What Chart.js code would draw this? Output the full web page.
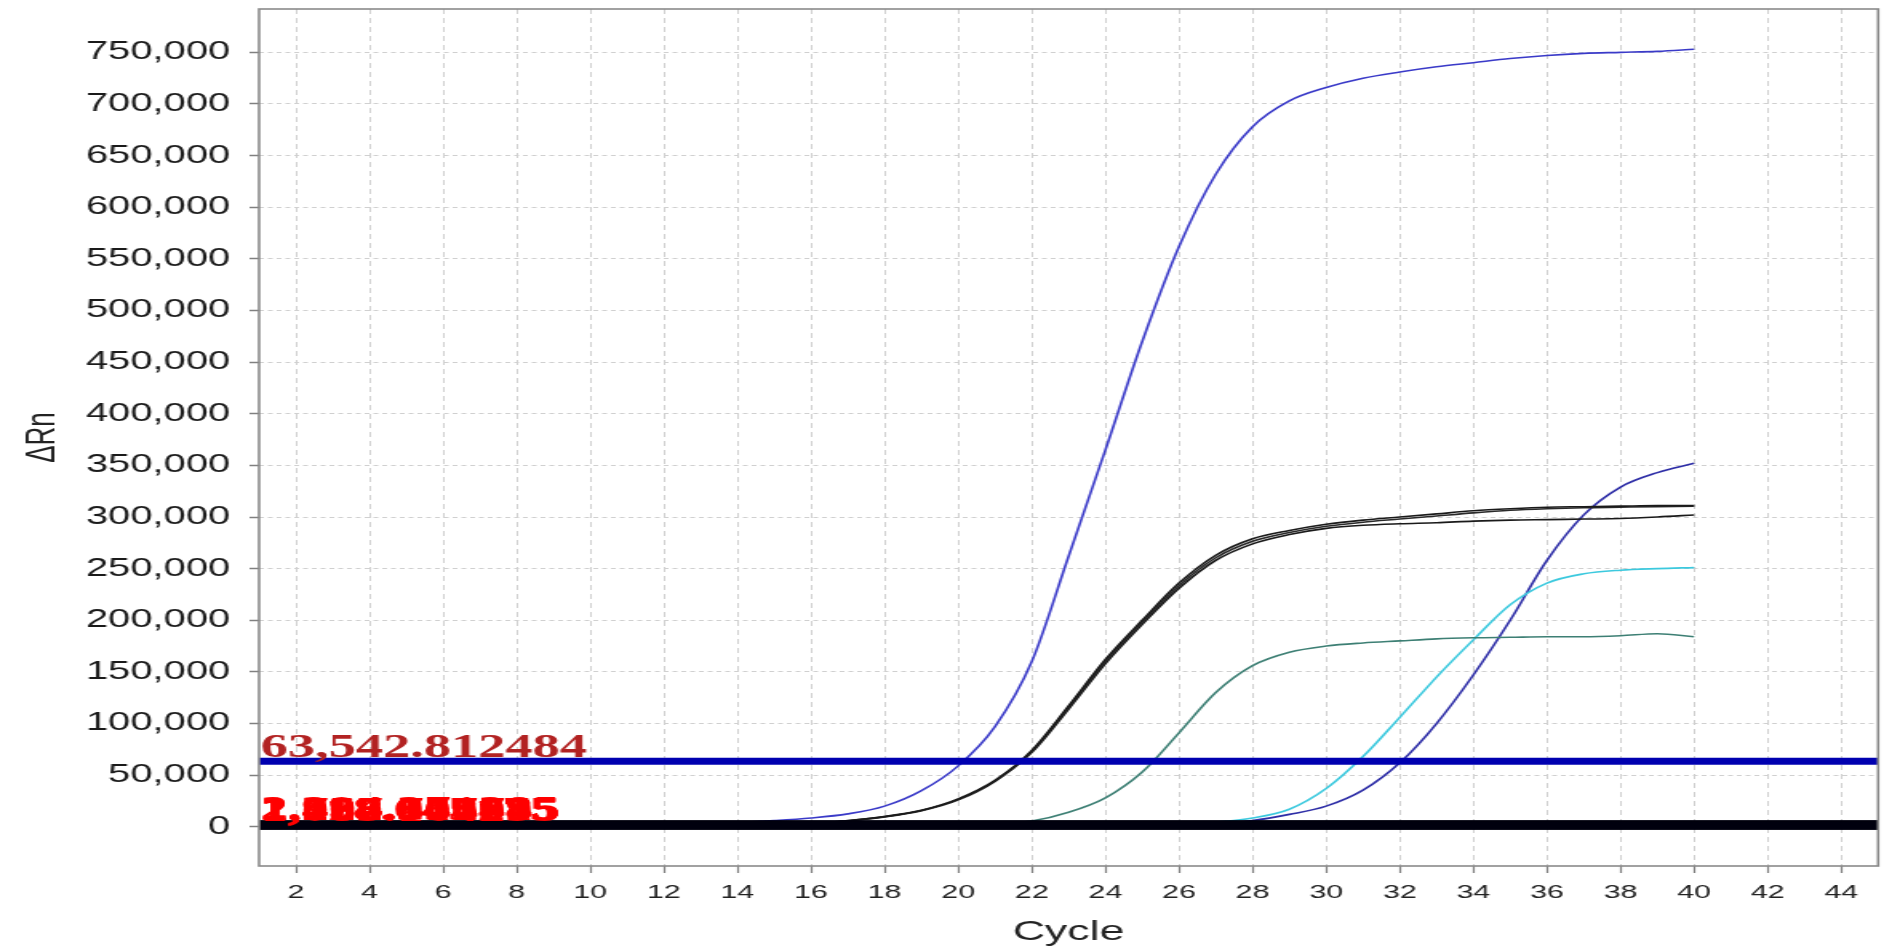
<!DOCTYPE html>
<html>
<head>
<meta charset="utf-8">
<title>Amplification plot</title>
<script src="https://cdn.jsdelivr.net/npm/chart.js@4.4.1/dist/chart.umd.min.js"></script>
<style>
  html, body { margin: 0; padding: 0; background: #fff; overflow: hidden; }
  #wrap { width: 1900px; height: 952px; overflow: hidden; }
  /* the original picture is stretched sideways, so the canvas is too */
  #ampChart { display: block; transform: scaleX(1.59933); transform-origin: 0 0; }
</style>
</head>
<body>
<div id="wrap"><canvas id="ampChart" width="1188" height="952"></canvas></div>
<script>
// Cycle numbers
const cycles = [1, 2, 3, 4, 5, 6, 7, 8, 9, 10, 11, 12, 13, 14, 15, 16, 17, 18, 19, 20,
                21, 22, 23, 24, 25, 26, 27, 28, 29, 30, 31, 32, 33, 34, 35, 36, 37, 38, 39, 40];

// Delta Rn per well
const blueHigh = [0, 400, 700, 800, 900, 1000, 1100, 1200, 1300, 1500,
                  1800, 2300, 3000, 4200, 6000, 8500, 12500, 20000, 35000, 59000,
                  97000, 160000, 262000, 365000, 470000, 562000, 632000, 678000, 703000, 716000,
                  725000, 731000, 736000, 740000, 744000, 747000, 749000, 750000, 751000, 753000];
const blackA = [0, 200, 300, 300, 400, 400, 500, 500, 600, 700,
                800, 900, 1100, 1400, 2000, 3200, 6000, 10000, 16000, 27000,
                45000, 74000, 117000, 162000, 200000, 236000, 263000, 279000, 287000, 293000,
                297000, 300000, 303000, 306000, 308000, 309500, 310000, 310500, 311000, 311000];
const blackB = [0, 100, 200, 300, 300, 400, 400, 500, 500, 600,
                700, 800, 1000, 1300, 1900, 3000, 5600, 9500, 15500, 26000,
                44000, 72000, 114000, 158000, 196000, 231000, 258000, 274000, 283000, 289000,
                292000, 293500, 294500, 296000, 297000, 297500, 298000, 298500, 300000, 302000];
const blackC = [0, 150, 250, 300, 350, 400, 450, 500, 550, 650,
                750, 850, 1050, 1350, 1950, 3100, 5800, 9800, 15800, 26500,
                44500, 73000, 116000, 160000, 198000, 233500, 260500, 276500, 285000, 291000,
                295000, 298000, 301000, 304000, 306500, 308000, 309000, 309500, 310000, 310500];
const teal = [0, 100, 100, 200, 200, 200, 300, 300, 300, 400,
              400, 500, 500, 600, 700, 800, 900, 1100, 1400, 1800,
              2500, 5500, 14000, 28000, 53000, 91000, 130000, 156000, 169000, 175000,
              178000, 180000, 182000, 183000, 183500, 184000, 184000, 185000, 187000, 184000];
const cyan = [0, 100, 100, 100, 200, 200, 200, 300, 300, 300,
              300, 400, 400, 400, 500, 500, 600, 600, 700, 800,
              900, 1000, 1200, 1400, 1700, 2500, 4500, 8500, 17000, 37000,
              68000, 106000, 145000, 181000, 215000, 236000, 245000, 248500, 250000, 251000];
const blueLate = [0, 100, 100, 200, 200, 200, 300, 300, 300, 400,
                  400, 400, 500, 500, 600, 600, 700, 700, 800, 900,
                  1000, 1100, 1300, 1500, 1800, 2300, 3000, 6000, 12000, 20000,
                  35500, 62000, 100000, 147000, 200000, 258000, 302000, 329000, 343000, 352000];

// Threshold lines
const thresholdBlue = 63542.812484;
const baselineThresholds = [1083.164235, 1426.907785, 1752.330915, 2118.645175,
                            1290.548615, 1967.802445, 1538.716095, 2394.271385];
const thresholdSpan = [1, 45];

// Axis ticks
const xTicks = [2, 4, 6, 8, 10, 12, 14, 16, 18, 20, 22, 24, 26, 28, 30, 32, 34, 36, 38, 40, 42, 44];
const yTicks = [0, 50000, 100000, 150000, 200000, 250000, 300000, 350000,
                400000, 450000, 500000, 550000, 600000, 650000, 700000, 750000];

const fmt = v => v.toLocaleString('en-US', { minimumFractionDigits: 6, maximumFractionDigits: 6 });
const toPoints = vals => cycles.map((c, i) => ({ x: c, y: vals[i] }));
const flatLine = v => thresholdSpan.map(c => ({ x: c, y: v }));

const curve = (vals, color) => ({
    data: toPoints(vals),
    borderColor: color,
    borderWidth: 1.6,
    pointRadius: 0,
    fill: false,
    cubicInterpolationMode: 'monotone'
});

// threshold lines first so they sit on top of the curves
const datasets = [
    { data: flatLine(thresholdBlue), borderColor: '#0000b0', borderWidth: 7, pointRadius: 0 }
];
baselineThresholds.forEach(v => {
    datasets.push({ data: flatLine(v), borderColor: '#00000e', borderWidth: 8, pointRadius: 0 });
});
datasets.push(
    curve(blueHigh, '#3a3ac8'),
    curve(blackA, '#1a1a1a'),
    curve(blackC, '#2a2a2a'),
    curve(blackB, '#1a1a1a'),
    curve(teal, '#3d7f74'),
    curve(cyan, '#3cc9de'),
    curve(blueLate, '#2c2ca6')
);

// Frame round the plot and the red threshold values
const frameAndLabels = {
    id: 'frameAndLabels',
    afterDatasetsDraw(chart) {
        const { ctx, chartArea: a, scales: { y } } = chart;
        ctx.save();
        ctx.beginPath();
        ctx.rect(a.left, a.top, a.right - a.left, a.bottom - a.top);
        ctx.clip();
        ctx.font = 'bold 34px "Liberation Serif"';
        ctx.textBaseline = 'alphabetic';
        ctx.textAlign = 'left';
        ctx.fillStyle = '#ff0000';
        baselineThresholds.forEach(v => {
            ctx.fillText(fmt(v), a.left + 1, y.getPixelForValue(v) - 5);
        });
        ctx.fillStyle = '#b22222';
        ctx.fillText(fmt(thresholdBlue), a.left + 1, y.getPixelForValue(thresholdBlue) - 4);
        ctx.restore();

        ctx.save();
        ctx.strokeStyle = '#8a8a8a';
        ctx.lineWidth = 1.6;
        ctx.strokeRect(a.left, a.top, a.right - a.left, a.bottom - a.top);
        ctx.restore();
    }
};

const tickFont = { family: '"Liberation Sans", Arial, sans-serif' };

new Chart(document.getElementById('ampChart'), {
    type: 'line',
    data: { datasets: datasets },
    plugins: [frameAndLabels],
    options: {
        responsive: false,
        devicePixelRatio: 1,
        animation: false,
        layout: { padding: { top: 9, right: 13.7, bottom: 0, left: 0 } },
        plugins: {
            legend: { display: false },
            tooltip: { enabled: false }
        },
        scales: {
            x: {
                type: 'linear',
                min: 1,
                max: 45,
                afterBuildTicks: s => { s.ticks = xTicks.map(v => ({ value: v })); },
                afterFit: s => { s.height = 86; s.paddingLeft = 0; s.paddingRight = 0; },
                ticks: {
                    autoSkip: false,
                    maxRotation: 0,
                    padding: 8,
                    color: '#222',
                    font: { ...tickFont, size: 19 }
                },
                grid: {
                    color: '#d0d0d0',
                    lineWidth: 1,
                    tickLength: 7,
                    tickColor: '#808080',
                    tickWidth: 1.2,
                    tickBorderDash: []
                },
                border: { display: false, dash: [5, 4] },
                title: {
                    display: true,
                    text: 'Cycle',
                    color: '#222',
                    font: { ...tickFont, size: 28 },
                    padding: { top: 0, bottom: 3 }
                }
            },
            y: {
                type: 'linear',
                min: -38000,
                max: 792000,
                afterBuildTicks: s => { s.ticks = yTicks.map(v => ({ value: v })); },
                afterFit: s => { s.width = 162; s.paddingTop = 0; s.paddingBottom = 0; },
                ticks: {
                    padding: 12,
                    color: '#1a1a1a',
                    font: { ...tickFont, size: 25 },
                    callback: v => v.toLocaleString('en-US')
                },
                grid: {
                    color: '#d0d0d0',
                    lineWidth: 1,
                    tickLength: 6,
                    tickColor: '#808080',
                    tickWidth: 1.5,
                    tickBorderDash: []
                },
                border: { display: false, dash: [3, 2.5] },
                title: {
                    display: true,
                    text: 'ΔRn',
                    color: '#222',
                    font: { ...tickFont, size: 26 },
                    padding: { top: 11, bottom: 0 }
                }
            }
        }
    }
});
</script>
</body>
</html>
